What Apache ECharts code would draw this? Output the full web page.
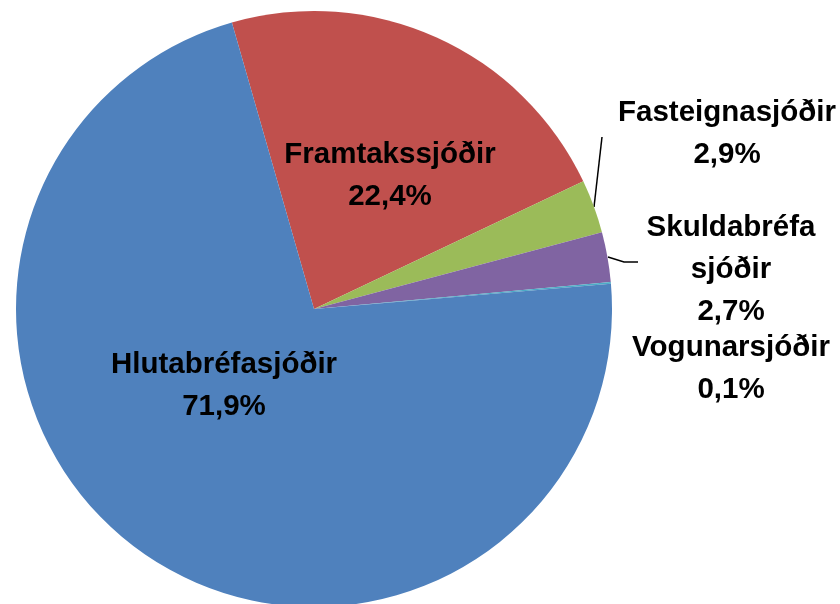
<!DOCTYPE html>
<html>
<head>
<meta charset="utf-8">
<script src="https://cdn.jsdelivr.net/npm/echarts@6/dist/echarts.min.js"></script>
<style>html,body{margin:0;padding:0;background:#fff}#c{width:840px;height:604px}</style>
</head>
<body>
<div id="c"></div>
<script>
const categories = ['Framtakssjóðir', 'Fasteignasjóðir', 'Skuldabréfa\nsjóðir', 'Vogunarsjóðir', 'Hlutabréfasjóðir'];
const values = [22.4, 2.9, 2.7, 0.1, 71.9];
const colors = ['#C0504D', '#9BBB59', '#8064A2', '#4BACC6', '#4F81BD'];

// label placement (layout only)
const labelPos = [
  {x: 390, y: 176, line: null},
  {x: 727, y: 134, line: [[594, 207], [602, 137]]},
  {x: 731, y: 270, line: [[608, 257], [624, 262], [638, 262]]},
  {x: 731, y: 369, line: null},
  {x: 224, y: 386, line: null}
];

const chart = echarts.init(document.getElementById('c'), null, {renderer: 'canvas'});
const fmt = v => v.toFixed(1).replace('.', ',') + '%';
chart.setOption({
  animation: false,
  series: [{
    type: 'pie',
    center: [314, 309],
    radius: 298,
    startAngle: 106,
    clockwise: true,
    avoidLabelOverlap: false,
    data: categories.map((c, i) => ({name: c, value: values[i], itemStyle: {color: colors[i]}})),
    itemStyle: {borderWidth: 0},
    label: {
      show: true,
      formatter: p => p.name + '\n' + fmt(p.value),
      fontFamily: 'Liberation Sans',
      fontWeight: 'bold',
      fontSize: 29.5,
      lineHeight: 42,
      color: '#000',
      align: 'center'
    },
    labelLine: {show: true, length: 10, length2: 10, lineStyle: {color: '#000', width: 1.5}},
    labelLayout: function (params) {
      const p = labelPos[params.dataIndex];
      const r = {x: p.x, y: p.y, align: 'center', verticalAlign: 'middle'};
      if (p.line) r.labelLinePoints = p.line; else r.labelLinePoints = [[0,0],[0,0]];
      return r;
    }
  }]
});
</script>
</body>
</html>
